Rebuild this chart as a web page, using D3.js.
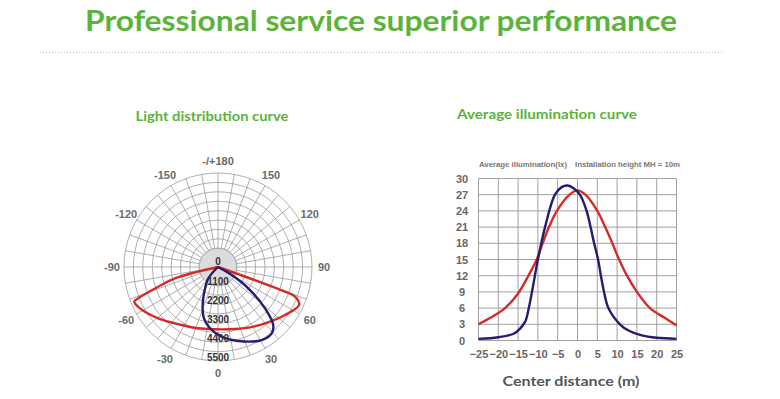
<!DOCTYPE html>
<html>
<head>
<meta charset="utf-8">
<script src="https://cdn.jsdelivr.net/npm/d3@7"></script>
<style>
  body { margin: 0; background: #fff; }
  svg { display: block; font-family: "Liberation Sans", Arial, sans-serif; }
</style>
</head>
<body>
<div id="chart"></div>
<script>
// Polar light distribution data (angle in degrees, intensity in cd)
const redAngles = [0, -75.3, -71.7, -68.6, -67.5, -62.1, -49.3, -32, -20, -8.9, 15.3, 27, 39.9, 54.4, 64.9, 68.9, 69.8, 70.3, 0];
const redCd = [0, 2574, 3686, 5009, 5301, 5166, 4605, 4002, 3800, 3674, 3762, 3980, 4295, 4821, 5237, 4827, 4178, 2510, 0];
const blueAngles = [0, -40.6, -29, -22, -15.3, -7.4, 3, 15.3, 30.9, 39, 43.6, 48.7, 54.9, 59.7, 0];
const blueCd = [0, 872, 1650, 2399, 3113, 3616, 4084, 4488, 4979, 4991, 4687, 3663, 2165, 930, 0];
const ringValues = [1100, 1650, 2200, 2750, 3300, 3850, 4400, 4950, 5500];
const ringLabels = [1100, 2200, 3300, 4400, 5500];
const angleLabels = [0, 30, 60, 90, 120, 150, 180, -150, -120, -90, -60, -30];

// Average illumination data (distance in m, illuminance in lx)
const redDist = [-25, -22, -18.3, -15, -12.4, -10.3, -8.8, -7.2, -5.2, -2, 0, 2, 5, 7, 8.8, 10.5, 12.5, 15, 18.3, 22, 25];
const redLux = [3, 4.2, 6, 8.7, 12, 15, 18, 21, 24, 27, 27.8, 27, 24, 21, 18, 15, 12, 9, 6, 4.2, 2.8];
const blueDist = [-25, -20, -16, -14.5, -13.2, -12.3, -11.5, -10, -8.2, -5.7, -4, -2.5, -1, 0.6, 2.3, 3.3, 4.2, 5.2, 5.9, 6.7, 7.8, 10.7, 13, 16, 20, 25];
const blueLux = [0.3, 0.6, 1.3, 2.2, 3.5, 6, 9, 15, 21, 27, 28.4, 28.7, 28.2, 27, 24, 21, 18, 15, 12, 9, 6, 3, 1.8, 1, 0.5, 0.3];
const xTicks = [-25, -20, -15, -10, -5, 0, 5, 10, 15, 20, 25];
const yTicks = [0, 3, 6, 9, 12, 15, 18, 21, 24, 27, 30];

const green = '#5bb33b';
const redColor = '#d42b27';
const blueColor = '#241c6e';

const svg = d3.select('#chart').append('svg')
    .attr('width', 780)
    .attr('height', 399);

// Title and separator
svg.append('text')
    .attr('x', 381)
    .attr('y', 31)
    .attr('text-anchor', 'middle')
    .attr('textLength', 592)
    .attr('lengthAdjust', 'spacingAndGlyphs')
    .style('font-family', 'Lato, sans-serif')
    .style('font-size', '29px')
    .style('font-weight', 'bold')
    .attr('fill', green)
    .text('Professional service superior performance');

svg.append('line')
    .attr('x1', 40).attr('x2', 722)
    .attr('y1', 52.5).attr('y2', 52.5)
    .attr('stroke', '#b5d4a4')
    .attr('stroke-dasharray', '1,2');

svg.append('text')
    .attr('x', 212)
    .attr('y', 121)
    .attr('text-anchor', 'middle')
    .attr('textLength', 153)
    .attr('lengthAdjust', 'spacingAndGlyphs')
    .style('font-family', 'Lato, sans-serif')
    .style('font-size', '13px')
    .style('font-weight', 'bold')
    .attr('fill', green)
    .text('Light distribution curve');

svg.append('text')
    .attr('x', 547)
    .attr('y', 119)
    .attr('text-anchor', 'middle')
    .attr('textLength', 180)
    .attr('lengthAdjust', 'spacingAndGlyphs')
    .style('font-family', 'Lato, sans-serif')
    .style('font-size', '13px')
    .style('font-weight', 'bold')
    .attr('fill', green)
    .text('Average illumination curve');

// Polar chart
const cx = 218, cy = 267;
const rScale = d3.scaleLinear().domain([0, 5500]).range([0, 94]);
const toRad = a => (180 - a) * Math.PI / 180;
const polar = svg.append('g').attr('transform', `translate(${cx},${cy})`);

polar.selectAll('.spoke')
    .data(d3.range(0, 360, 10))
    .enter().append('line')
    .attr('class', 'spoke')
    .attr('x1', d => rScale(1100) * Math.sin(toRad(d)))
    .attr('y1', d => -rScale(1100) * Math.cos(toRad(d)))
    .attr('x2', d => rScale(5500) * Math.sin(toRad(d)))
    .attr('y2', d => -rScale(5500) * Math.cos(toRad(d)))
    .attr('stroke', '#9a9a9a')
    .attr('stroke-width', 0.8);

polar.selectAll('.ring')
    .data(ringValues)
    .enter().append('circle')
    .attr('class', 'ring')
    .attr('r', d => rScale(d))
    .attr('fill', 'none')
    .attr('stroke', '#9a9a9a')
    .attr('stroke-width', 0.8);

polar.append('circle')
    .attr('r', rScale(1100))
    .attr('fill', '#dcdcdc')
    .attr('stroke', '#9a9a9a')
    .attr('stroke-width', 0.8);

polar.selectAll('.angle-label')
    .data(angleLabels)
    .enter().append('text')
    .attr('class', 'angle-label')
    .attr('x', d => 106 * Math.sin(toRad(d)))
    .attr('y', d => -106 * Math.cos(toRad(d)))
    .attr('dy', '0.35em')
    .attr('text-anchor', 'middle')
    .style('font-size', '11px')
    .style('font-weight', 'bold')
    .attr('fill', '#6a6a6a')
    .text(d => d === 180 ? '-/+180' : d);

const radial = d3.lineRadial()
    .curve(d3.curveCatmullRom)
    .angle(d => toRad(d[0]))
    .radius(d => rScale(d[1]));

polar.append('path')
    .attr('d', radial(redAngles.map((a, i) => [a, redCd[i]])))
    .attr('fill', 'none')
    .attr('stroke', redColor)
    .attr('stroke-width', 2.4);

polar.append('path')
    .attr('d', radial(blueAngles.map((a, i) => [a, blueCd[i]])))
    .attr('fill', 'none')
    .attr('stroke', blueColor)
    .attr('stroke-width', 2.4);

polar.append('text')
    .attr('x', 0)
    .attr('y', -2)
    .attr('text-anchor', 'middle')
    .style('font-size', '10px')
    .style('font-weight', 'bold')
    .attr('fill', '#333')
    .text('0');

polar.selectAll('.ring-label')
    .data(ringLabels)
    .enter().append('text')
    .attr('class', 'ring-label')
    .attr('x', 0)
    .attr('y', d => rScale(d) - 0.5)
    .attr('text-anchor', 'middle')
    .style('font-size', '10px')
    .style('font-weight', 'bold')
    .attr('fill', '#333')
    .text(d => d);

// Average illumination chart
const xScale = d3.scaleLinear().domain([-25, 25]).range([478.5, 676.5]);
const yScale = d3.scaleLinear().domain([0, 30]).range([340.5, 178.5]);

svg.selectAll('.vgrid')
    .data(xTicks)
    .enter().append('line')
    .attr('class', 'vgrid')
    .attr('x1', d => xScale(d)).attr('x2', d => xScale(d))
    .attr('y1', yScale(0)).attr('y2', yScale(30))
    .attr('stroke', '#a0a0a0');

svg.selectAll('.hgrid')
    .data(yTicks)
    .enter().append('line')
    .attr('class', 'hgrid')
    .attr('x1', xScale(-25)).attr('x2', xScale(25))
    .attr('y1', d => yScale(d)).attr('y2', d => yScale(d))
    .attr('stroke', '#a0a0a0');

const xAxis = svg.append('g')
    .attr('transform', `translate(0, ${yScale(0) + 7})`)
    .call(d3.axisBottom(xScale).tickValues(xTicks).tickSize(0));
xAxis.select('.domain').remove();
xAxis.selectAll('text')
    .style('font-family', 'Liberation Sans, Arial, sans-serif')
    .style('font-size', '11px')
    .style('font-weight', 'bold')
    .attr('fill', '#666');

const yAxis = svg.append('g')
    .attr('transform', 'translate(462, 0)')
    .call(d3.axisLeft(yScale).tickValues(yTicks).tickSize(0).tickPadding(0));
yAxis.select('.domain').remove();
yAxis.selectAll('text')
    .attr('text-anchor', 'middle')
    .style('font-family', 'Liberation Sans, Arial, sans-serif')
    .style('font-size', '11px')
    .style('font-weight', 'bold')
    .attr('fill', '#666');

const line = d3.line()
    .curve(d3.curveCatmullRom)
    .x(d => xScale(d[0]))
    .y(d => yScale(d[1]));

svg.append('path')
    .attr('d', line(redDist.map((x, i) => [x, redLux[i]])))
    .attr('fill', 'none')
    .attr('stroke', redColor)
    .attr('stroke-width', 2.4);

svg.append('path')
    .attr('d', line(blueDist.map((x, i) => [x, blueLux[i]])))
    .attr('fill', 'none')
    .attr('stroke', blueColor)
    .attr('stroke-width', 2.4);

svg.append('text')
    .attr('x', 479)
    .attr('y', 167)
    .attr('textLength', 88)
    .attr('lengthAdjust', 'spacingAndGlyphs')
    .style('font-size', '7px')
    .style('font-weight', 'bold')
    .attr('fill', '#777')
    .text('Average illumination(lx)');

svg.append('text')
    .attr('x', 575)
    .attr('y', 167)
    .attr('textLength', 105)
    .attr('lengthAdjust', 'spacingAndGlyphs')
    .style('font-size', '7px')
    .style('font-weight', 'bold')
    .attr('fill', '#777')
    .text('Installation height MH = 10m');

svg.append('text')
    .attr('x', 571)
    .attr('y', 386)
    .attr('text-anchor', 'middle')
    .attr('textLength', 137)
    .attr('lengthAdjust', 'spacingAndGlyphs')
    .style('font-family', 'Lato, sans-serif')
    .style('font-size', '14px')
    .style('font-weight', 'bold')
    .attr('fill', '#555')
    .text('Center distance (m)');
</script>
</body>
</html>
